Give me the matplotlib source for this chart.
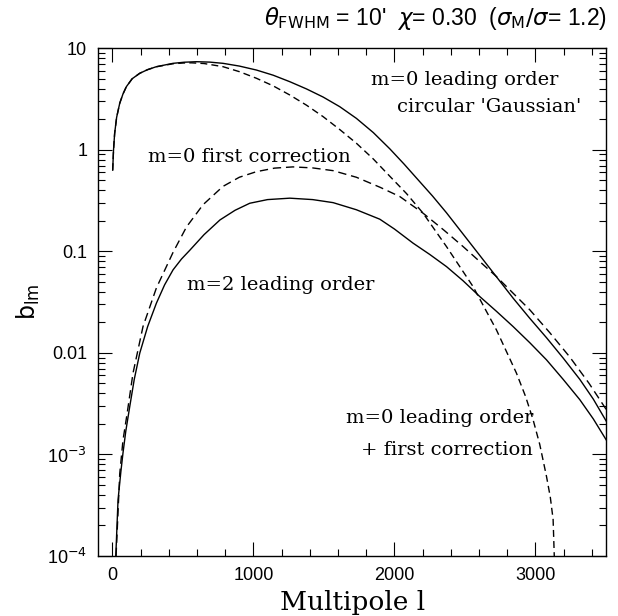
import numpy as np
import matplotlib
matplotlib.use("Agg")
import matplotlib.pyplot as plt
from matplotlib.ticker import FixedLocator, MultipleLocator, LogLocator, NullFormatter

# values, as log10(b_lm)

# m=0 leading order (solid)
l_lead = [2, 8, 16, 30, 52, 75, 99, 140, 194, 250, 312, 430, 510, 596, 690, 784, 900,
          1021, 1140, 1258, 1376, 1494, 1612, 1730, 1850, 1967, 2068, 2168, 2270, 2369,
          2487, 2605, 2723, 2841, 2960, 3078, 3196, 3314, 3410, 3503]
lg_lead = [-0.2, 0.0, 0.163, 0.32, 0.459, 0.55, 0.622, 0.70, 0.754, 0.79, 0.819, 0.852,
           0.863, 0.868, 0.864, 0.852, 0.825, 0.786, 0.735, 0.671, 0.60, 0.52, 0.425,
           0.31, 0.17, 0.01, -0.14, -0.296, -0.455, -0.62, -0.83, -1.04, -1.25,
           -1.46, -1.66, -1.85, -2.05, -2.26, -2.455, -2.675]

# m=0 leading order + first correction (dashed)
l_sum = [2, 8, 16, 30, 52, 75, 99, 140, 194, 250, 312, 430, 500, 560, 650, 784, 900,
         1021, 1140, 1258, 1376, 1494, 1612, 1730, 1850, 1967, 2085, 2203, 2369, 2557,
         2723, 2865, 2930, 2983, 3030, 3078, 3105, 3125, 3140]
lg_sum = [-0.2, 0.0, 0.163, 0.32, 0.459, 0.55, 0.622, 0.70, 0.754, 0.79, 0.818, 0.848,
          0.855, 0.857, 0.85, 0.819, 0.77, 0.705, 0.63, 0.540, 0.44, 0.327, 0.20, 0.065,
          -0.09, -0.26, -0.43, -0.624, -0.953, -1.346, -1.773, -2.199, -2.43, -2.658,
          -2.9, -3.216, -3.42, -3.64, -4.3]

# m=0 first correction (dashed)
l_corr = [26, 52, 75, 104, 146, 217, 312, 430, 525, 643, 784, 900, 1021, 1150, 1280,
          1420, 1565, 1730, 1900, 2038, 2203, 2350, 2487, 2723, 2960, 3101, 3243, 3380,
          3503]
lg_corr = [-4.0, -3.19, -2.86, -2.6, -2.2, -1.74, -1.36, -1.01, -0.76, -0.54, -0.36,
           -0.27, -0.215, -0.18, -0.168, -0.178, -0.205, -0.27, -0.37, -0.46, -0.624,
           -0.79, -0.953, -1.248, -1.576, -1.80, -2.04, -2.30, -2.56]

# m=2 leading order (solid)
l_m2 = [24, 40, 60, 75, 95, 123, 155, 194, 250, 312, 370, 430, 490, 548, 650, 763, 870,
        974, 1100, 1258, 1420, 1565, 1730, 1896, 2000, 2132, 2250, 2369, 2487, 2605,
        2723, 2841, 2960, 3078, 3196, 3314, 3410, 3503]
lg_m2 = [-4.0, -3.446, -3.17, -2.986, -2.77, -2.528, -2.26, -2.002, -1.74, -1.510, -1.33,
         -1.182, -1.075, -0.99, -0.835, -0.69, -0.595, -0.526, -0.49, -0.476, -0.49,
         -0.520, -0.59, -0.683, -0.78, -0.919, -1.03, -1.150, -1.29, -1.445, -1.59,
         -1.740, -1.90, -2.068, -2.26, -2.46, -2.65, -2.86]

fig = plt.figure(figsize=(6.18, 6.16), dpi=100)
ax = fig.add_axes([98.3 / 618, 1 - 556 / 616, (606 - 98.3) / 618, (556 - 48.3) / 616])

ax.plot(l_lead, 10 ** np.array(lg_lead), color="black", lw=1.0)
ax.plot(l_sum, 10 ** np.array(lg_sum), color="black", lw=1.0, dashes=(5, 3))
ax.plot(l_corr, 10 ** np.array(lg_corr), color="black", lw=1.0, dashes=(6, 3.5))
ax.plot(l_m2, 10 ** np.array(lg_m2), color="black", lw=1.0)

ax.set_yscale("log")
ax.set_xlim(-100, 3500)
ax.set_ylim(1e-4, 10)

ax.xaxis.set_major_locator(FixedLocator([0, 1000, 2000, 3000]))
ax.xaxis.set_minor_locator(MultipleLocator(200))
ax.yaxis.set_minor_locator(LogLocator(base=10, subs=np.arange(2, 10), numticks=10))
ax.yaxis.set_minor_formatter(NullFormatter())
ax.set_yticks([1e-4, 1e-3, 0.01, 0.1, 1, 10])
ax.set_yticklabels([r"10$^{-4}$", r"10$^{-3}$", "0.01", "0.1", "1", "10"])
ax.tick_params(which="both", direction="in", top=True, right=True, width=0.8)
ax.tick_params(which="major", length=10, labelsize=13, pad=8)
ax.tick_params(which="minor", length=5)
for lab in ax.get_xticklabels() + ax.get_yticklabels():
    lab.set_family("Liberation Sans")
for s in ax.spines.values():
    s.set_linewidth(1.0)

ax.set_xlabel("Multipole l", family="DejaVu Serif", fontsize=19, labelpad=4)
ax.set_ylabel(r"b$_{\rm lm}$", family="DejaVu Sans", fontsize=17, labelpad=4)

tk = dict(family="DejaVu Serif", fontsize=14, transform=fig.transFigure, va="center")
fig.text(558 / 618, 1 - 80 / 616, "m=0 leading order", ha="right", **tk)
fig.text(581 / 618, 1 - 107 / 616, "circular 'Gaussian'", ha="right", **tk)
fig.text(148 / 618, 1 - 157 / 616, "m=0 first correction", ha="left", **tk)
fig.text(187 / 618, 1 - 285 / 616, "m=2 leading order", ha="left", **tk)
fig.text(533 / 618, 1 - 418 / 616, "m=0 leading order", ha="right", **tk)
fig.text(533 / 618, 1 - 450 / 616, "+ first correction", ha="right", **tk)

fig.text(607 / 618, 1 - 18 / 616,
         r"$\theta_{\rm FWHM}$ = 10'  $\chi$= 0.30  ($\sigma_{\rm M}/\sigma$= 1.2)",
         ha="right", va="center", fontsize=16.5, family="Liberation Sans")

fig.savefig("out.png", dpi=100)
